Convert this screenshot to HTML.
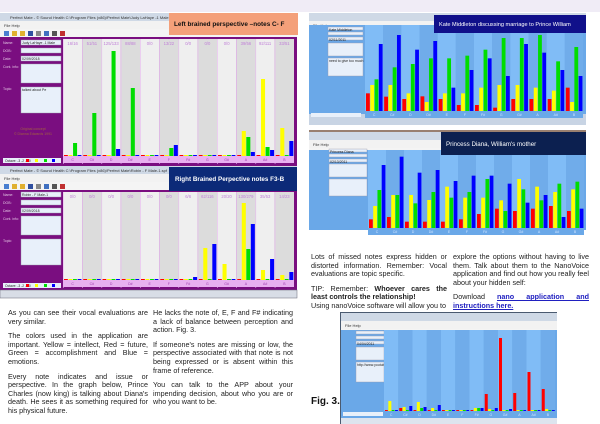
<!DOCTYPE html>
<html><head><meta charset="utf-8">
<style>
body{margin:0;width:600px;height:424px;overflow:hidden;background:#fff;font-family:"Liberation Sans",sans-serif;position:relative}
.a{position:absolute}
.txt{font-size:7.2px;line-height:8.6px;color:#222;text-align:justify}
.txt p{margin:0 0 6px 0}
</style></head><body>
<div class="a" style="left:0;top:0;width:600px;height:12px;background:#f0ecf6"></div>
<svg class="a" style="left:0;top:0" width="600" height="424" id="s" xmlns="http://www.w3.org/2000/svg" font-family="Liberation Sans, sans-serif"></svg>

<div class="a txt" style="left:8px;top:309px;width:140px">
<p>As you can see their vocal evaluations are very similar.</p>
<p>The colors used in the application are important. Yellow = intellect, Red = future, Green = accomplishment and Blue = emotions.</p>
<p>Every note indicates and issue or perspective. In the graph below, Prince Charles (now king) is talking about Diana's death. He sees it as something required for his physical future.</p>
</div>
<div class="a txt" style="left:153px;top:309px;width:140px">
<p>He lacks the note of, E, F and F# indicating a lack of balance between perception and action. Fig. 3.</p>
<p>If someone's notes are missing or low, the perspective associated with that note is not being expressed or is absent within this frame of reference.</p>
<p>You can talk to the APP about your impending decision, about who you are or who you want to be.</p>
</div>
<div class="a txt" style="left:311px;top:253px;width:136px">
<p>Lots of missed notes express hidden or distorted information. Remember: Vocal evaluations are topic specific.</p>
<p style="margin:0">TIP: Remember: <b>Whoever cares the least controls the relationship!</b><br>Using nanoVoice software will allow you to</p>
</div>
<div class="a txt" style="left:453px;top:253px;width:136px">
<p>explore the options without having to live them. Talk about them to the NanoVoice application and find out how you really feel about your hidden self:</p>
<p>Download <a style="color:#2020c0;text-decoration:underline;font-weight:bold">nano application and instructions here.</a></p>
</div>
<div class="a" style="left:311px;top:396px;font-size:10px;font-weight:bold;color:#111">Fig. 3.</div>

<script>
const S=document.getElementById('s');let h='';
function R(x,y,w,hh,c,ex){h+=`<rect x="${x}" y="${y}" width="${w}" height="${hh}" fill="${c}" ${ex||''}/>`}
function T(x,y,t,sz,c,ex){h+=`<text x="${x}" y="${y}" font-size="${sz}" fill="${c}" ${ex||''}>${t}</text>`}
const cols=['#f00','#ff0','#0d0','#00f'];
const notes=['C','C#','D','D#','E','F','F#','G','G#','A','A#','B'];
function win(x,y,w,hh,title){
 R(x,y,w,hh,'#d8dde6');R(x,y,w,8,'#cfd9e6');T(x+10,y+6,title,4,'#333');
 R(x,y+8,w,8,'#f2f2f2');T(x+4,y+14,'File   Help',4,'#333');
 R(x,y+16,w,9,'#f4f4f4');
 for(let i=0;i<8;i++)R(x+4+i*8,y+18,5,5,['#4a7fd0','#e0b030','#e0b030','#3050a0','#888','#4070c0','#555','#c03030'][i]);
}
function chart(x0,x1,top,base,panel,bgA,bgB,sep,hdrs,bars,hc,lblBg,lblC,bw){
 const n=12,cw=(x1-x0)/n;
 for(let i=0;i<n;i++){const cx=x0+i*cw;R(cx,top,cw,base-top,i%2?bgB:bgA);if(sep)R(cx,top,0.6,base-top+8,sep);
  if(hdrs)T(cx+cw/2,top+6,hdrs[i],4.2,hc,'text-anchor="middle"');
  const b=bars[i];for(let k=0;k<4;k++){const bx=cx+1+k*cw*0.235;const t=b[k];
   if(t==null)R(bx,base-1,cw*0.2,1,cols[k]);else R(bx,t,cw*0.21,base-t,cols[k]);}
 }
 R(x0,base,x1-x0,7,lblBg);
 for(let i=0;i<n;i++)T(x0+i*cw+cw/2,base+5,notes[i],3.5,lblC,'text-anchor="middle"');
}
// Screenshot 1
win(0,13,297,24,'Perfect Mate - © Sound Health C:\\Program Files (x86)\\Perfect Mate\\Judy LaHaye -1 Male.spf');
R(0,37,297,129,'#7a0e80');
const fld=(x,y,w,hh,t)=>{R(x,y,w,hh,'#e8f0fa','stroke="#99a" stroke-width="0.4"');if(t)T(x+1,y+4,t,3.5,'#222')};
function lp(y,names,c){T(3,y+4,'Name:',3.5,c);T(3,y+12,'DOB:',3.5,c);T(3,y+20,'Date:',3.5,c);T(3,y+28,'Cont. info:',3.5,c);T(3,y+50,'Topic:',3.5,c);
 fld(21,y,40,5,names[0]);fld(21,y+8,40,5);fld(21,y+16,40,5,names[1]);fld(21,y+24,40,19);fld(21,y+47,40,26,names[2]);}
lp(40,['Judy LaHaye -1 Male','02/09/2018','talked about Pe'],'#e0c0e0');
T(33,130,'Original concept',3.5,'#a06040','text-anchor="middle"');T(33,135,'© Dianna Edwards 1991',3.5,'#a06040','text-anchor="middle"');
R(3,158,58,5,'#e8f0fa');T(5,162,'Octave:   -3    -2    -1    0',3.3,'#222');
[26,35,44,52].forEach((x,i)=>R(x,159,3,3,cols[i]));
chart(63,294,39,156,0,'#efefef','#dcdcdc','#e8b8f0',['16/16','51/51','125/133','88/88','0/0','13/22','0/0','0/0','0/0','39/56','92/111','33/51'],
[[null,null,143,null],[null,null,113,null],[null,null,51,149],[null,null,88,null],[null,null,null,null],[null,null,148,145],[null,null,null,null],[null,null,null,null],[null,null,null,null],[null,131,137,152],[null,79,147,150],[null,128,null,141]],'#c080d8','#e8b0f0','#a040b0');
R(169,13,129,22,'#f4a07a');T(174,26,'Left brained perspective –notes C- F',6.4,'#111','font-weight="bold"');
// Screenshot 2
win(0,166,297,24,'Perfect Mate - © Sound Health C:\\Program Files (x86)\\Perfect Mate\\Robin - F Male-1.spf');
R(0,190,297,100,'#7a0e80');
lp(192,['Robin - F Male-1','02/09/2018',''],'#e0c0e0');
R(3,283,58,5,'#e8f0fa');T(5,287,'Octave:   -3    -2    -1    0',3.3,'#222');
[26,35,44,52].forEach((x,i)=>R(x,284,3,3,cols[i]));
chart(63,294,192,280,0,'#efefef','#dcdcdc','#e8b8f0',['0/0','0/0','0/0','0/0','0/0','0/0','6/6','62/116','20/20','130/279','35/53','14/23'],
[[null,null,null,null],[null,null,null,null],[null,null,null,null],[null,null,null,null],[null,null,null,null],[null,null,null,null],[null,null,null,277],[null,248,null,244],[null,264,null,null],[null,203,249,224],[null,270,null,259],[null,275,null,272]],'#c080d8','#e8b0f0','#a040b0');
R(0,290,297,8,'#d8dde6','stroke="#667" stroke-width="0.5"');
R(169,167,128,24,'#0c2a78');T(175,181,'Right Brained Perpective notes F3-B',6.3,'#fff','font-weight="bold"');
// Right screenshot 1 (Kate)
win(309,13,277,12,'');
R(309,25,277,100,'#6aa8e8');
R(309,114,277,11,'#c8d4e4');
fld(328,27,35,3,'Kate Middleton');fld(328,32,35,3);fld(328,37,35,3,'02/11/2011');fld(328,43,35,13);fld(328,58,35,18,'need to give too much');
chart(365,583,25,111,0,'#80bcf6','#70acea',null,null,
[[280,255,238,132],[290,255,202,105],[297,280,192,149],[289,306,175,123],[297,280,175,263],[315,280,167,210],[315,263,149,175],[323,255,114,228],[297,255,114,132],[297,263,105,158],[297,272,184,210],[263,306,141,228]].map(a=>a.map(v=>v/3)),'#fff','#6aa8e8','#d0e4ff');
R(311,113,50,4,'#e8f0fa');
R(434,15,152,18,'#10108a');T(439,26,'Kate Middleton discussing marriage to Prince William',5.6,'#fff');
// Right screenshot 2 (Diana)
R(309,130,277,100,'#9a8070');
win(309,132,277,23,'');
R(309,150,277,80,'#6aa8e8');
fld(329,149,38,3,'Princess Diana');fld(329,154,38,3);fld(329,159,38,3,'02/13/2011');fld(329,164,38,13);fld(329,179,38,17);
chart(368,584,150,228,0,'#80bcf6','#70acea',null,null,
[[658,618,570,495],[651,585,585,470],[665,585,610,518],[665,600,576,510],[665,560,593,543],[658,593,576,527],[642,593,537,527],[626,601,633,551],[633,537,568,608],[626,560,601,585],[618,576,551,651],[633,568,545,626]].map(a=>a.map(v=>v/3)),'#fff','#6aa8e8','#d0e4ff');
R(441,132,145,23,'#0c2050');T(446,146,'Princess Diana, William\'s  mother',6.2,'#fff');
// Fig 3
R(340,312,217,112,'#4a5a70');
win(341,313,216,17,'');
R(341,330,216,90,'#6aa8e8');
fld(356,331,28,3);fld(356,336,28,3);fld(356,341,28,3,'04/04/2011');fld(356,347,28,13);fld(356,362,28,20,'http://www.youtube.com');
chart(384,555,330,411,0,'#80bcf6','#70acea',null,null,
[[null,401,null,null],[408,407,null,406],[null,402,408,407],[null,408,null,405],[null,null,null,null],[null,null,null,null],[null,408,408,408],[394,409,null,408],[338,null,null,409],[393,null,null,null],[372,null,null,null],[389,409,null,410]],'#fff','#6aa8e8','#d0e4ff');
R(343,412,40,4,'#e8f0fa');
R(341,418,216,6,'#dde4ee');
S.innerHTML=h;
</script>
</body></html>
